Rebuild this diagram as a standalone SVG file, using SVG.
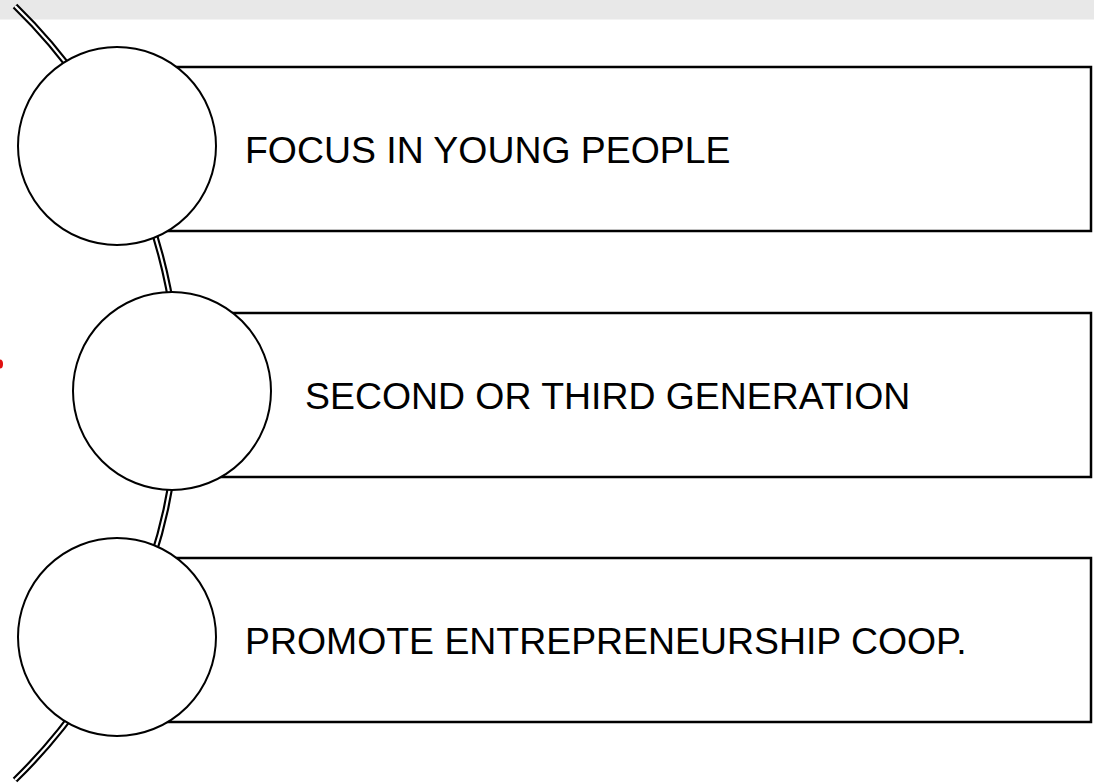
<svg xmlns="http://www.w3.org/2000/svg" width="1094" height="783" viewBox="0 0 1094 783">
<style>
.box{fill:#fff;stroke:#000;stroke-width:2.5}
.circ{fill:#fff;stroke:#000;stroke-width:2}
.lbl{font-family:"Liberation Sans",Arial,sans-serif;font-size:37.4px;fill:#000}
</style>
<rect x="0" y="0" width="1094" height="783" fill="#fff"/>
<rect x="0" y="0" width="1094" height="19.5" fill="#e8e8e8"/>
<ellipse cx="0" cy="364" rx="3" ry="4.5" fill="#e01010"/>
<g id="connectors">
<path d="M 15 6 A 540 540 0 0 1 15 780" fill="none" stroke="#000" stroke-width="6.5"/>
<path d="M 15 6 A 540 540 0 0 1 15 780" fill="none" stroke="#fff" stroke-width="2.2"/>
</g>
<g id="node1">
<rect class="box" x="117" y="67" width="974" height="164"/>
<circle class="circ" cx="117" cy="146" r="99"/>
<text class="lbl" x="245" y="163">FOCUS IN YOUNG PEOPLE</text>
</g>
<g id="node2">
<rect class="box" x="172" y="313" width="919" height="164"/>
<circle class="circ" cx="172" cy="391" r="99"/>
<text class="lbl" x="305" y="409">SECOND OR THIRD GENERATION</text>
</g>
<g id="node3">
<rect class="box" x="117" y="558" width="974" height="164"/>
<circle class="circ" cx="117" cy="637" r="99"/>
<text class="lbl" x="245" y="654">PROMOTE ENTREPRENEURSHIP COOP.</text>
</g>
</svg>
